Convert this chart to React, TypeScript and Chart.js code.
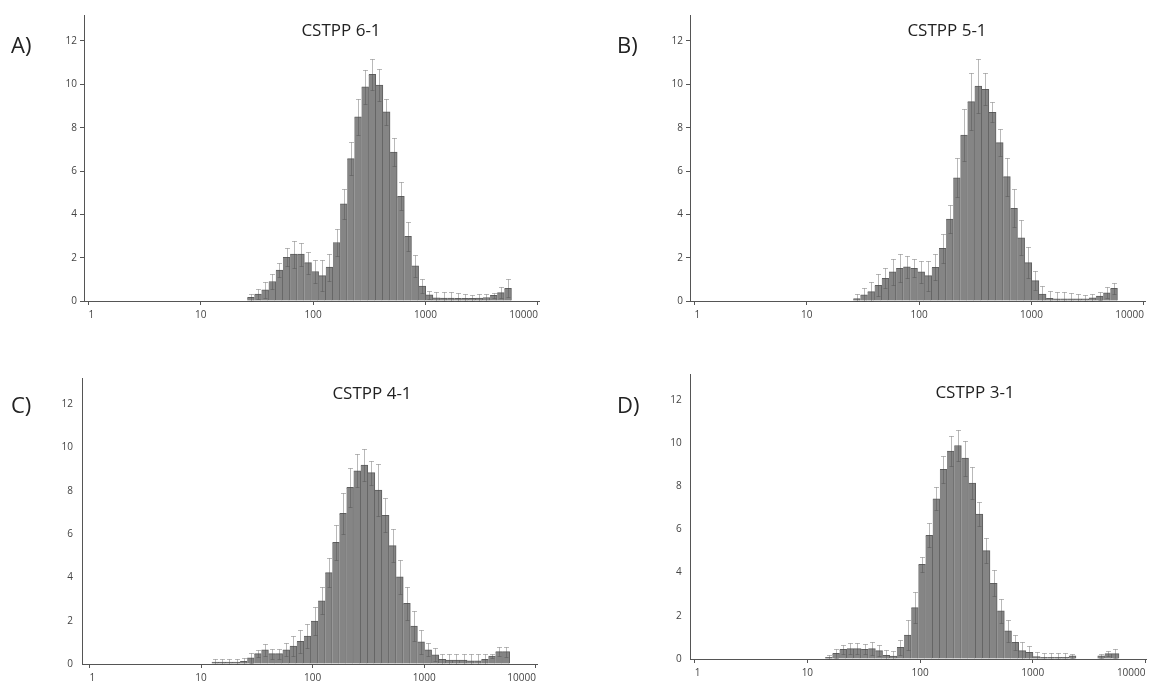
import React, { useEffect, useRef } from 'react';
import { Chart, registerables } from 'chart.js';

Chart.register(...registerables);

// Shared log-spaced size bins (bin centres)
const binCentres = [
  13.39, 15.5, 17.95, 20.77, 24.05, 27.84, 32.23, 37.31, 43.19, 50.0, 57.88, 67.01, 77.56, 89.79,
  103.9, 120.3, 139.3, 161.3, 186.7, 216.1, 250.2, 289.6, 335.2, 388.0, 449.2, 520.0, 602.0, 696.9,
  806.8, 933.9, 1081, 1252, 1449, 1677, 1942, 2248, 2602, 3012, 3487, 4036, 4673, 5410,
];

const xTickValues = [1, 10, 100, 1000, 10000];
const xTickLabels = ['1', '10', '100', '1000', '10000'];
const yTickValues = [0, 2, 4, 6, 8, 10, 12];
const yTickLabels = ['0', '2', '4', '6', '8', '10', '12'];

const panelTitles = ['CSTPP 6-1', 'CSTPP 5-1', 'CSTPP 4-1', 'CSTPP 3-1'];
const panelLetters = ['A)', 'B)', 'C)', 'D)'];

// CSTPP 6-1
const cstpp61Values = [
  null, null, null, null, null, 0.17, 0.32, 0.51, 0.9, 1.43, 2.02, 2.16, 2.16, 1.77,
  1.36, 1.17, 1.56, 2.7, 4.48, 6.57, 8.5, 9.88, 10.46, 9.97, 8.73, 6.87, 4.83, 2.98,
  1.62, 0.69, 0.28, 0.15, 0.13, 0.13, 0.12, 0.12, 0.12, 0.13, 0.16, 0.26, 0.39, 0.59,
];
const cstpp61Errors = [
  null, null, null, null, null, 0.15, 0.24, 0.39, 0.33, 0.31, 0.42, 0.62, 0.54, 0.51,
  0.51, 0.73, 0.62, 0.62, 0.69, 0.76, 0.84, 0.78, 0.73, 0.76, 0.61, 0.66, 0.65, 0.66,
  0.51, 0.31, 0.2, 0.28, 0.28, 0.28, 0.27, 0.2, 0.18, 0.18, 0.18, 0.13, 0.27, 0.41,
];

// CSTPP 5-1
const cstpp51Values = [
  null, null, null, null, null, 0.11, 0.28, 0.43, 0.72, 1.05, 1.35, 1.51, 1.58, 1.51,
  1.35, 1.17, 1.55, 2.43, 3.78, 5.69, 7.66, 9.2, 9.92, 9.77, 8.71, 7.31, 5.74, 4.28,
  2.92, 1.77, 0.94, 0.32, 0.12, 0.1, 0.1, 0.1, 0.1, 0.1, 0.15, 0.23, 0.38, 0.58,
];
const cstpp51Errors = [
  null, null, null, null, null, 0.21, 0.3, 0.46, 0.51, 0.46, 0.59, 0.64, 0.51, 0.41,
  0.51, 0.69, 0.6, 0.66, 0.65, 0.89, 1.19, 1.31, 1.23, 0.74, 0.46, 0.63, 0.88, 0.87,
  0.82, 0.71, 0.44, 0.37, 0.33, 0.3, 0.3, 0.25, 0.22, 0.2, 0.18, 0.2, 0.25, 0.27,
];

// CSTPP 4-1
const cstpp41Values = [
  0.09, 0.09, 0.09, 0.09, 0.12, 0.29, 0.48, 0.65, 0.48, 0.48, 0.65, 0.83, 1.05, 1.29,
  1.98, 2.92, 4.22, 5.62, 6.95, 8.15, 8.92, 9.18, 8.83, 8.03, 6.86, 5.46, 4.02, 2.8,
  1.75, 1.02, 0.65, 0.42, 0.22, 0.18, 0.18, 0.18, 0.15, 0.15, 0.22, 0.37, 0.57, 0.57,
];
const cstpp41Errors = [
  0.16, 0.16, 0.16, 0.16, 0.16, 0.23, 0.17, 0.26, 0.23, 0.23, 0.3, 0.48, 0.52, 0.54,
  0.64, 0.62, 0.66, 0.8, 0.93, 0.91, 0.76, 0.74, 0.55, 1.2, 0.79, 0.76, 0.78, 0.77,
  0.7, 0.55, 0.3, 0.3, 0.24, 0.28, 0.3, 0.3, 0.31, 0.31, 0.24, 0.09, 0.2, 0.23,
];

// CSTPP 3-1
const cstpp31Values = [
  null, 0.08, 0.26, 0.45, 0.48, 0.48, 0.45, 0.48, 0.39, 0.17, 0.14, 0.54, 1.11, 2.38,
  4.39, 5.73, 7.42, 8.79, 9.63, 9.89, 9.3, 8.15, 6.71, 5.02, 3.51, 2.23, 1.31, 0.77,
  0.39, 0.31, 0.11, 0.08, 0.08, 0.08, 0.08, 0.15, null, null, null, 0.15, 0.25, 0.25,
];
const cstpp31Errors = [
  null, 0.11, 0.22, 0.2, 0.25, 0.25, 0.23, 0.29, 0.26, 0.25, 0.25, 0.34, 0.7, 0.7,
  0.35, 0.56, 0.54, 0.62, 0.71, 0.7, 0.81, 0.74, 0.55, 0.58, 0.59, 0.54, 0.5, 0.35,
  0.4, 0.3, 0.2, 0.2, 0.2, 0.2, 0.2, 0.1, null, null, null, 0.1, 0.12, 0.2,
];

type Box = { l: number; t: number; w: number; h: number };
type Area = { l: number; t: number; r: number; b: number };
type PanelCfg = {
  values: (number | null)[];
  errors: (number | null)[];
  box: Box;
  area: Area;
  xMinExp: number;
  yTickMarks: boolean;
  title: { cx: number; cy: number };
  letter: { x: number; cy: number };
};

const panels: PanelCfg[] = [
  {
    values: cstpp61Values, errors: cstpp61Errors,
    box: { l: 0, t: 0, w: 575, h: 342 }, area: { l: 84, t: 15, r: 539, b: 301 },
    xMinExp: -0.04, yTickMarks: true,
    title: { cx: 341, cy: 30 }, letter: { x: 11, cy: 44 },
  },
  {
    values: cstpp51Values, errors: cstpp51Errors,
    box: { l: 575, t: 0, w: 575, h: 342 }, area: { l: 115, t: 15, r: 570, b: 301 },
    xMinExp: -0.04, yTickMarks: true,
    title: { cx: 947, cy: 30 }, letter: { x: 617, cy: 44 },
  },
  {
    values: cstpp41Values, errors: cstpp41Errors,
    box: { l: 0, t: 342, w: 575, h: 342 }, area: { l: 82, t: 36, r: 537, b: 322 },
    xMinExp: -0.067, yTickMarks: false,
    title: { cx: 372, cy: 393 }, letter: { x: 11, cy: 404 },
  },
  {
    values: cstpp31Values, errors: cstpp31Errors,
    box: { l: 575, t: 342, w: 575, h: 342 }, area: { l: 115.7, t: 32, r: 571.6, b: 317 },
    xMinExp: -0.035, yTickMarks: false,
    title: { cx: 975, cy: 392 }, letter: { x: 617, cy: 404 },
  },
];

const FONT = "'Open Sans', 'Noto Sans', sans-serif";

function Panel({ cfg }: { cfg: PanelCfg }) {
  const ref = useRef<HTMLCanvasElement>(null);
  useEffect(() => {
    const canvas = ref.current;
    if (!canvas) return;
    const { values, errors, box, area, xMinExp, yTickMarks } = cfg;

    const errorBars = {
      id: 'errorBars',
      afterDatasetsDraw(chart: any) {
        const meta = chart.getDatasetMeta(0);
        const yScale = chart.scales.y;
        const ctx = chart.ctx as CanvasRenderingContext2D;
        ctx.save();
        ctx.lineWidth = 1;
        ctx.strokeStyle = 'rgba(70,70,70,0.38)';
        meta.data.forEach((bar: any, i: number) => {
          const v = values[i];
          const e = errors[i];
          if (v == null || e == null) return;
          const x = Math.round(bar.x) + 0.5;
          const yTop = Math.round(yScale.getPixelForValue(v + e)) + 0.5;
          const yBot = Math.round(yScale.getPixelForValue(Math.max(0, v - e))) + 0.5;
          ctx.beginPath();
          ctx.moveTo(x, yBot);
          ctx.lineTo(x, yTop);
          ctx.moveTo(x - 2.5, yTop);
          ctx.lineTo(x + 2.5, yTop);
          ctx.moveTo(x - 2, yBot);
          ctx.lineTo(x + 2, yBot);
          ctx.stroke();
        });
        ctx.restore();
      },
    };

    const chart = new Chart(canvas, {
      type: 'bar',
      data: {
        datasets: [
          {
            data: binCentres.map((c, i) => ({ x: c, y: values[i] })) as any,
            backgroundColor: '#858585',
            borderColor: '#5e5e5e',
            borderWidth: { top: 1, right: 1, left: 0, bottom: 0 } as any,
            barPercentage: 1,
            categoryPercentage: 1,
          },
        ],
      },
      options: {
        responsive: false,
        animation: false,
        devicePixelRatio: 1,
        layout: { padding: { left: 0, top: area.t, right: box.w - area.r, bottom: 0 } },
        plugins: {
          legend: { display: false },
          tooltip: { enabled: false },
          title: { display: false },
        },
        scales: {
          x: {
            type: 'logarithmic',
            offset: false,
            min: Math.pow(10, xMinExp),
            max: Math.pow(10, 4.01),
            afterBuildTicks: (s: any) => {
              s.ticks = xTickValues.map((v) => ({ value: v }));
            },
            afterFit: (s: any) => {
              s.height = box.h - area.b;
              s.paddingLeft = 0;
              s.paddingRight = 0;
            },
            grid: {
              display: true,
              offset: false,
              drawOnChartArea: false,
              drawTicks: true,
              tickLength: 4,
              tickColor: '#555',
            },
            border: { display: true, color: '#555', width: 1 },
            ticks: {
              autoSkip: false,
              maxRotation: 0,
              minRotation: 0,
              padding: 4,
              align: 'inner',
              color: '#444',
              font: { family: FONT, size: 10 },
              callback: (_v: any, i: number) => xTickLabels[i],
            },
          } as any,
          y: {
            type: 'linear',
            min: 0,
            max: 13.2,
            afterBuildTicks: (s: any) => {
              s.ticks = yTickValues.map((v) => ({ value: v }));
            },
            afterFit: (s: any) => {
              s.width = area.l;
            },
            grid: {
              display: true,
              drawOnChartArea: false,
              drawTicks: true,
              tickLength: 4,
              tickColor: yTickMarks ? '#555' : 'rgba(0,0,0,0)',
            },
            border: { display: true, color: '#555', width: 1 },
            ticks: {
              padding: yTickMarks ? 3 : 5,
              color: '#444',
              font: { family: FONT, size: 10 },
              callback: (_v: any, i: number) => yTickLabels[i],
            },
          } as any,
        },
      },
      plugins: [errorBars],
    });
    return () => chart.destroy();
  }, [cfg]);

  return (
    <canvas
      ref={ref}
      width={cfg.box.w}
      height={cfg.box.h}
      style={{
        position: 'absolute',
        left: cfg.box.l,
        top: cfg.box.t,
        width: cfg.box.w,
        height: cfg.box.h,
      }}
    />
  );
}

export default function App() {
  return (
    <div
      style={{
        position: 'absolute',
        left: 0,
        top: 0,
        width: 1150,
        height: 684,
        background: '#ffffff',
        overflow: 'hidden',
        fontFamily: FONT,
      }}
    >
      {panels.map((p, i) => (
        <Panel key={i} cfg={p} />
      ))}
      {panels.map((p, i) => (
        <div
          key={'t' + i}
          style={{
            position: 'absolute',
            left: p.title.cx - 100,
            top: p.title.cy - 12,
            width: 200,
            height: 24,
            lineHeight: '24px',
            textAlign: 'center',
            fontSize: 17,
            color: '#222',
            whiteSpace: 'nowrap',
          }}
        >
          {panelTitles[i]}
        </div>
      ))}
      {panels.map((p, i) => (
        <div
          key={'l' + i}
          style={{
            position: 'absolute',
            left: p.letter.x,
            top: p.letter.cy - 15,
            height: 30,
            lineHeight: '30px',
            fontSize: 22,
            color: '#222',
            whiteSpace: 'nowrap',
          }}
        >
          {panelLetters[i]}
        </div>
      ))}
    </div>
  );
}
